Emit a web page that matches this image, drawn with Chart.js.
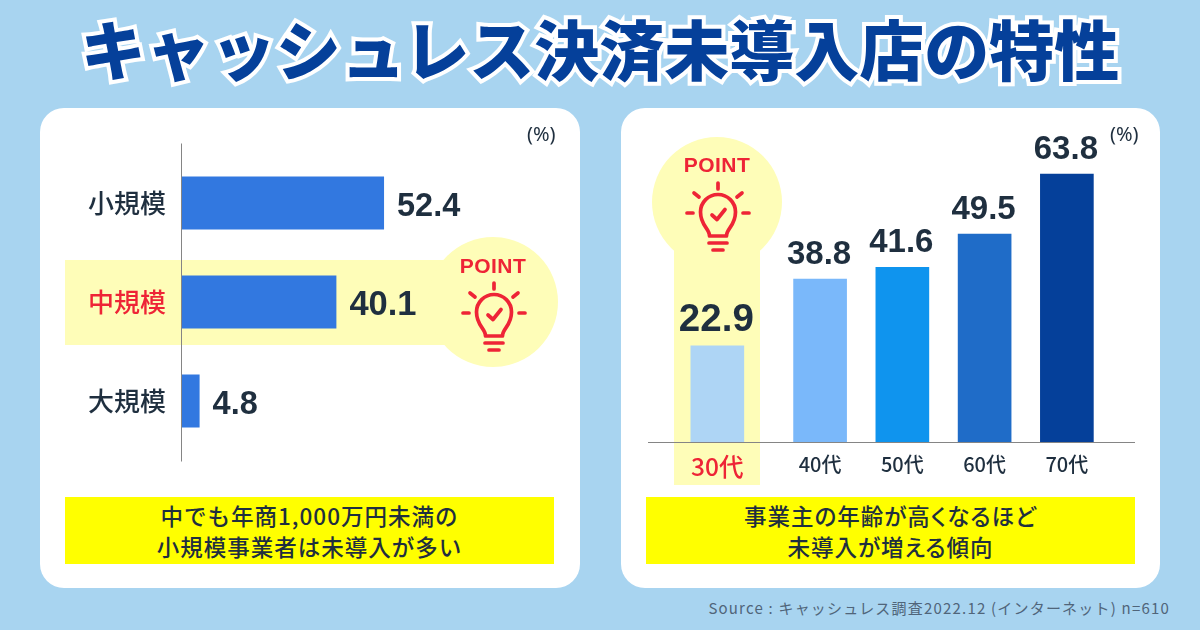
<!DOCTYPE html>
<html lang="ja">
<head>
<meta charset="utf-8">
<title>キャッシュレス決済未導入店の特性</title>
<script src="https://cdn.jsdelivr.net/npm/chart.js@4"></script>
<style>
  html, body { margin: 0; padding: 0; }
  body { position: relative; width: 1200px; height: 630px; overflow: hidden; background: #a8d4f0;
         font-family: "Noto Sans CJK JP", sans-serif; color: #1f2f3f; }
  body > * { position: absolute; }
  .title { left: 0; top: 2px; width: 1200px; text-align: center; font-size: 65px; line-height: 90px; font-weight: 900;
           color: #05409a; -webkit-text-stroke: 8px #fff; paint-order: stroke fill; white-space: nowrap; }
  .card { background: #fff; border-radius: 24px; top: 108px; height: 480px; }
  .hl { background: #fefdb8; }
  .round { border-radius: 50%; }
  .point { font: bold 21px "Liberation Sans", sans-serif; color: #ee2436; letter-spacing: .5px; width: 100px; text-align: center; }
  .unit { font: 20px "Noto Sans", sans-serif; top: 120px; }
  .note { background: #ffff00; left: 65px; top: 497px; width: 489px; height: 67px; text-align: center;
          font-size: 22.5px; line-height: 31px; font-weight: 500; letter-spacing: 1px; padding-top: 3px; box-sizing: border-box; }
  .source { right: 30px; top: 597px; font-size: 15px; color: #50657a; letter-spacing: 1.2px; }
  canvas { display: block; }
</style>
</head>
<body>
<div class="title">キャッシュレス決済未導入店の特性</div>

<div class="card" style="left:40px;width:540px"></div>
<div class="card" style="left:621px;width:539px"></div>

<!-- yellow highlights sit under the transparent chart canvases -->
<div class="hl" style="left:65px;top:260px;width:420px;height:85px"></div>
<div class="hl round" style="left:428px;top:237px;width:130px;height:130px"></div>
<div class="hl" style="left:674px;top:200px;width:86px;height:285px"></div>
<div class="hl round" style="left:652px;top:137px;width:130px;height:130px"></div>

<canvas id="sizeChart" width="540" height="480" style="left:40px;top:108px"></canvas>
<canvas id="ageChart" width="539" height="480" style="left:621px;top:108px"></canvas>

<div class="point" style="left:443px;top:254px">POINT</div>
<svg class="bulb" style="left:461px;top:281px" width="66" height="74" viewBox="0 0 66 74"></svg>
<div class="point" style="left:667px;top:153px">POINT</div>
<svg class="bulb" style="left:685px;top:181px" width="66" height="74" viewBox="0 0 66 74"></svg>

<div class="unit" style="left:527px">(%)</div>
<div class="unit" style="left:1110px">(%)</div>

<div class="note">中でも年商1,000万円未満の<br>小規模事業者は未導入が多い</div>
<div class="note" style="left:646px;font-feature-settings:'palt'">事業主の年齢が高くなるほど<br>未導入が増える傾向</div>
<div class="source">Source : キャッシュレス調査2022.12 (インターネット) n=610</div>

<script>
const sizeLabels = ['小規模', '中規模', '大規模'];
const sizeValues = [52.4, 40.1, 4.8];
const ageLabels = ['30代', '40代', '50代', '60代', '70代'];
const ageValues = [22.9, 38.8, 41.6, 49.5, 63.8];
const ageColors = ['#aed5f5', '#7ab8fa', '#0f94ee', '#1f6cc8', '#05409a'];

const INK = '#1f2f3f';
const RED = '#ee2436';

Chart.defaults.animation = false;
Chart.defaults.responsive = false;
Chart.defaults.plugins.legend.display = false;
Chart.defaults.plugins.tooltip.enabled = false;

// the 30代 bar stands a bit closer to the others than one full band
class LeadGapScale extends Chart.CategoryScale {
  static id = 'leadGap';
  static defaults = Chart.CategoryScale.defaults;
  getPixelForValue(value) {
    const px = super.getPixelForValue(value);
    const index = typeof value === 'number' ? value : this.parse(value);
    return index === 0 ? px + this.options.leadShift : px;
  }
}
Chart.register(LeadGapScale);

// value text next to each bar, the highlighted one a size larger
const valueLabels = {
  id: 'valueLabels',
  afterDatasetsDraw(chart, args, opts) {
    const ctx = chart.ctx;
    const horizontal = chart.options.indexAxis === 'y';
    const data = chart.data.datasets[0].data;
    ctx.save();
    ctx.fillStyle = INK;
    chart.getDatasetMeta(0).data.forEach((bar, i) => {
      const size = i === opts.bigIndex ? opts.bigSize : opts.size;
      const text = data[i].toFixed(1);
      ctx.font = `bold ${size}px "Liberation Sans", sans-serif`;
      ctx.textBaseline = 'alphabetic';
      if (horizontal) {
        ctx.textAlign = 'left';
        ctx.fillText(text, bar.x + 13, bar.y + 13);
      } else {
        ctx.textAlign = 'center';
        ctx.fillText(text, bar.x - 1, bar.y - 15);
      }
    });
    ctx.restore();
  }
};

// axis line running past the plot area
const axisLine = {
  id: 'axisLine',
  afterDatasetsDraw(chart, args, opts) {
    const { ctx, chartArea: a } = chart;
    ctx.save();
    ctx.strokeStyle = '#858585';
    ctx.lineWidth = 1;
    ctx.beginPath();
    if (opts.vertical) {
      ctx.moveTo(a.left + 0.5, a.top - opts.before);
      ctx.lineTo(a.left + 0.5, a.bottom + opts.after);
    } else {
      ctx.moveTo(a.left - opts.before, a.bottom + 0.5);
      ctx.lineTo(a.right + opts.after, a.bottom + 0.5);
    }
    ctx.stroke();
    ctx.restore();
  }
};

new Chart(document.getElementById('sizeChart'), {
  type: 'bar',
  data: {
    labels: sizeLabels,
    datasets: [{ data: sizeValues, backgroundColor: '#3278e0', categoryPercentage: 1, barPercentage: 53 / 99 }]
  },
  options: {
    indexAxis: 'y',
    layout: { padding: { top: 45.5, right: 89, bottom: 137.5, left: 0 } },
    scales: {
      x: { display: false, min: 0, max: 80 },
      y: {
        offset: true,
        grid: { display: false },
        border: { display: false },
        afterFit(scale) { scale.width = 141; },
        ticks: {
          padding: 7,
          color: c => c.index === 1 ? RED : INK,
          font: { family: '"Noto Sans CJK JP"', size: 26, weight: 500 }
        }
      }
    },
    plugins: {
      axisLine: { vertical: true, before: 10, after: 11 },
      valueLabels: { size: 32.5, bigIndex: 1, bigSize: 34.5 }
    }
  },
  plugins: [axisLine, valueLabels]
});

new Chart(document.getElementById('ageChart'), {
  type: 'bar',
  data: {
    labels: ageLabels,
    datasets: [{ data: ageValues, backgroundColor: ageColors, barThickness: 53, clip: false }]
  },
  options: {
    layout: { padding: { top: 40, right: 52, bottom: 86, left: 75.7 } },
    scales: {
      y: { display: false, min: 0, max: 70 },
      x: {
        type: 'leadGap',
        leadShift: -20.5,
        offset: true,
        grid: { display: false },
        border: { display: false },
        afterFit(scale) { scale.height = 60; },
        ticks: {
          padding: 2,
          maxRotation: 0,
          color: c => c.index === 0 ? RED : INK,
          font: c => ({ family: '"Noto Sans CJK JP"', size: c.index === 0 ? 24.5 : 20, weight: 500 })
        }
      }
    },
    plugins: {
      axisLine: { vertical: false, before: 48.7, after: 27 },
      valueLabels: { size: 33, bigIndex: 0, bigSize: 38.5 }
    }
  },
  plugins: [axisLine, valueLabels]
});

// light bulb icon with a tick, used on both highlights
const bulbMarkup = `
  <g fill="none" stroke="${RED}" stroke-width="3.7" stroke-linecap="round" stroke-linejoin="round">
    <path d="M33 2v6M9 12l5 4M57 12l-5 4M2 32h6M58 32h6"/>
    <path d="M24.5 55c0-8-9-10-9-24a17.5 17.5 0 0 1 35 0c0 14-9 16-9 24z"/>
    <path d="M27 34l5 4.500 8-10"/>
    <path d="M24 62h18M28 69h10"/>
  </g>`;
document.querySelectorAll('.bulb').forEach(el => { el.innerHTML = bulbMarkup; });
</script>
</body>
</html>
